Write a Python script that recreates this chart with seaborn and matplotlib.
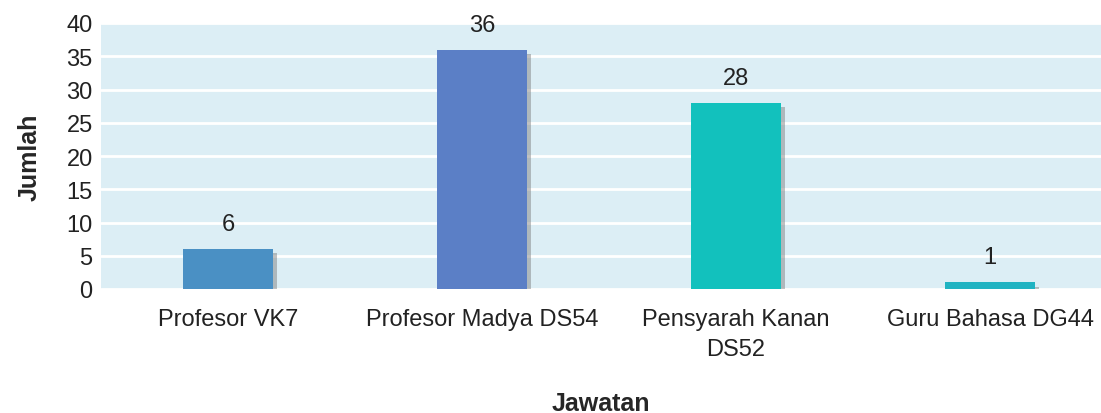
import pandas as pd
import matplotlib
matplotlib.use("Agg")
import matplotlib.pyplot as plt
import matplotlib.patheffects as pe
import seaborn as sns

# Data
categories = ["Profesor VK7", "Profesor Madya DS54", "Pensyarah Kanan\nDS52", "Guru Bahasa DG44"]
counts = [6, 36, 28, 1]
bar_colors = ["#4A90C4", "#5B7FC6", "#12C1BD", "#20B3C2"]

df = pd.DataFrame({"Jawatan": categories, "Jumlah": counts})

sns.set_style("white")
plt.rcParams["font.family"] = ["Liberation Sans", "DejaVu Sans"]

fig = plt.figure(figsize=(11.01, 4.14), dpi=100)
ax = fig.add_axes([101 / 1101, 1 - 290 / 414, 1 - 101 / 1101, (290 - 24) / 414])
ax.set_facecolor("#DCEEF5")

sns.barplot(data=df, x="Jawatan", y="Jumlah", hue="Jawatan", palette=bar_colors,
            width=0.355, saturation=1, linewidth=0, legend=False, ax=ax, zorder=3)

for patch in ax.patches:
    patch.set_path_effects([pe.SimplePatchShadow(offset=(3, -3), shadow_rgbFace="#777777", alpha=0.45),
                            pe.Normal()])

for i, v in enumerate(counts):
    ax.annotate(str(v), (i, v), xytext=(0, 10), textcoords="offset points",
                ha="center", va="bottom", fontsize=17, color="#222222")

ax.set_ylim(0, 40)
ax.set_xlim(-0.5, 3.437)
ax.set_yticks(range(0, 41, 5))
ax.yaxis.grid(True, color="white", linewidth=2, zorder=1)
ax.set_axisbelow(True)
for s in ax.spines.values():
    s.set_visible(False)

ax.tick_params(axis="y", labelsize=17, length=0, pad=6, labelcolor="#222222")
ax.tick_params(axis="x", labelsize=17, length=0, pad=14, labelcolor="#222222")
for lbl in ax.get_xticklabels():
    lbl.set_linespacing(1.45)

ax.set_ylabel("Jumlah", fontsize=18, fontweight="bold", labelpad=18)
ax.set_xlabel("Jawatan", fontsize=18, fontweight="bold", labelpad=22)

fig.savefig("out.png", dpi=100)
